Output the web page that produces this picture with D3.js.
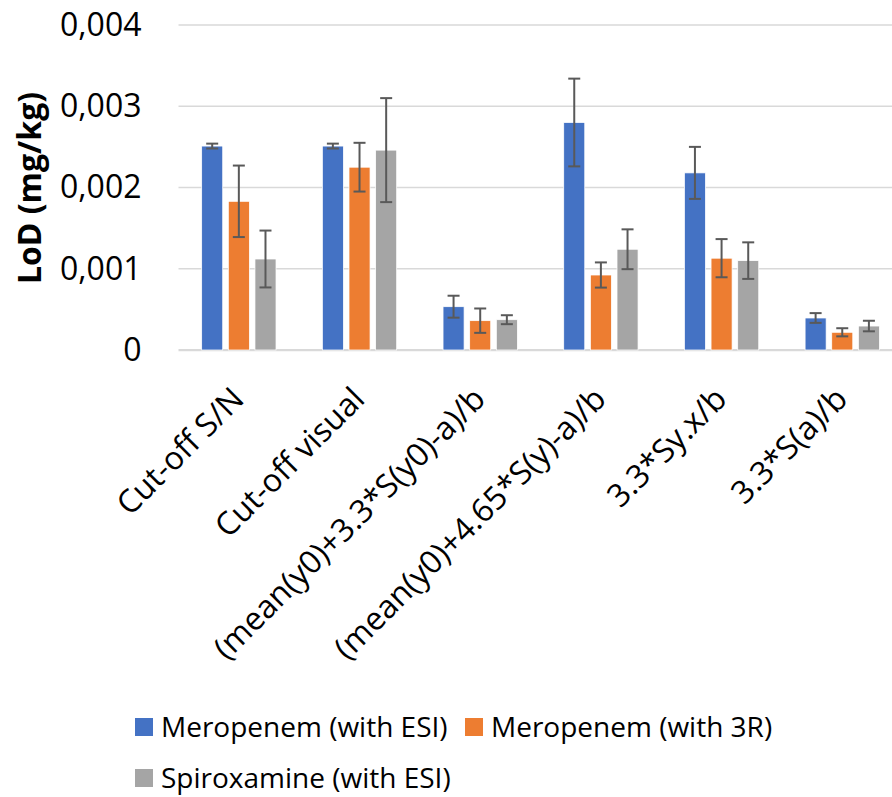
<!DOCTYPE html>
<html>
<head>
<meta charset="utf-8">
<script src="https://cdn.jsdelivr.net/npm/d3@7"></script>
<style>
  body { margin: 0; background: #fff; }
  text { font-family: "Open Sans", "Noto Sans", sans-serif; fill: #000; }
</style>
</head>
<body>
<svg id="chart" width="892" height="797"></svg>
<script>
// categories and series
const categories = ["Cut-off S/N", "Cut-off visual", "(mean(y0)+3.3*S(y0)-a)/b", "(mean(y0)+4.65*S(y)-a)/b", "3.3*Sy.x/b", "3.3*S(a)/b"]
const seriesNames = ["Meropenem (with ESI)", "Meropenem (with 3R)", "Spiroxamine (with ESI)"]
// LoD values (mg/kg) per series, in category order
const meroEsi = [0.00251, 0.00251, 0.000533, 0.00280, 0.00218, 0.000394]
const mero3r = [0.00183, 0.00225, 0.000361, 0.000923, 0.00113, 0.000218]
const spiroEsi = [0.00112, 0.00246, 0.000373, 0.00124, 0.00110, 0.000295]
// error bar half widths
const meroEsiErr = [0.00003, 0.00003, 0.000135, 0.00054, 0.00032, 0.00006]
const mero3rErr = [0.00044, 0.0003, 0.00015, 0.000155, 0.000235, 0.00005]
const spiroEsiErr = [0.00035, 0.00064, 0.000055, 0.000245, 0.000225, 0.000065]
const yTicks = [0, 0.001, 0.002, 0.003, 0.004]

const colors = ['#4472C4', '#ED7D31', '#A5A5A5']
const values = [meroEsi, mero3r, spiroEsi]
const errs = [meroEsiErr, mero3rErr, spiroEsiErr]

const svg = d3.select('#chart')
const plot = {left: 178.5, right: 902.6, top: 25, bottom: 350}

const x0 = d3.scaleBand()
  .domain(categories)
  .range([plot.left, plot.right])
  .paddingInner(0.384)
  .paddingOuter(0.192)

const x1 = d3.scaleBand()
  .domain(d3.range(3))
  .range([0, x0.bandwidth()])
  .paddingInner(0.21)

const y = d3.scaleLinear()
  .domain([0, 0.004])
  .range([plot.bottom, plot.top])

const fmt = d => d === 0 ? '0' : d3.format('.3f')(d).replace('.', ',')

// gridlines
svg.append('g')
  .selectAll('line')
  .data(yTicks)
  .enter()
  .append('line')
  .attr('x1', plot.left)
  .attr('x2', plot.right)
  .attr('y1', d => y(d))
  .attr('y2', d => y(d))
  .attr('stroke', '#D9D9D9')
  .attr('stroke-width', d => d === 0 ? 2.25 : 1.5)

// y axis labels
const yAxis = svg.append('g')
  .attr('transform', `translate(${plot.left - 37},0)`)
  .call(d3.axisLeft(y).tickValues(yTicks).tickFormat(fmt).tickSize(0).tickPadding(0))
yAxis.select('.domain').remove()
yAxis.selectAll('text')
  .attr('font-size', 32)
  .style('font-family', '"Open Sans", sans-serif')
  .attr('fill', '#000')

// bars
const rows = []
categories.forEach((c, i) => {
  for (let s = 0; s < 3; s++) rows.push({cat: c, s: s, v: values[s][i], e: errs[s][i]})
})

svg.append('g')
  .selectAll('rect')
  .data(rows)
  .enter()
  .append('rect')
  .attr('x', d => x0(d.cat) + x1(d.s))
  .attr('y', d => y(d.v))
  .attr('width', x1.bandwidth())
  .attr('height', d => y(0) - y(d.v))
  .attr('fill', d => colors[d.s])
  .attr('stroke', '#fff')
  .attr('stroke-width', 0.75)

// error bars
const eb = svg.append('g')
  .attr('stroke', '#595959')
  .attr('stroke-width', 2)
  .selectAll('g')
  .data(rows)
  .enter()
  .append('g')
  .attr('transform', d => `translate(${x0(d.cat) + x1(d.s) + x1.bandwidth() / 2},0)`)
eb.append('line')
  .attr('y1', d => y(d.v + d.e))
  .attr('y2', d => y(d.v - d.e))
eb.append('line')
  .attr('x1', -6).attr('x2', 6)
  .attr('y1', d => y(d.v + d.e))
  .attr('y2', d => y(d.v + d.e))
eb.append('line')
  .attr('x1', -6).attr('x2', 6)
  .attr('y1', d => y(d.v - d.e))
  .attr('y2', d => y(d.v - d.e))

// x labels, rotated
svg.append('g')
  .selectAll('text')
  .data(categories)
  .enter()
  .append('text')
  .attr('transform', d => `translate(${x0(d) + x0.bandwidth() / 2 + 7},401) rotate(-45)`)
  .attr('text-anchor', 'end')
  .attr('font-size', 32)
  .text(d => d)

// y axis title
svg.append('text')
  .attr('transform', 'translate(41,188) rotate(-90)')
  .attr('text-anchor', 'middle')
  .attr('font-size', 32)
  .attr('font-weight', 'bold')
  .text('LoD (mg/kg)')

// legend
const legendPos = [[135, 727], [465, 727], [135, 778]]
const legend = svg.append('g')
  .selectAll('g')
  .data(seriesNames)
  .enter()
  .append('g')
  .attr('transform', (d, i) => `translate(${legendPos[i][0]},${legendPos[i][1]})`)
legend.append('rect')
  .attr('x', 0).attr('y', -9)
  .attr('width', 18).attr('height', 18)
  .attr('fill', (d, i) => colors[i])
legend.append('text')
  .attr('x', 26)
  .attr('dy', '0.35em')
  .attr('font-size', 28)
  .text(d => d)
</script>
</body>
</html>
